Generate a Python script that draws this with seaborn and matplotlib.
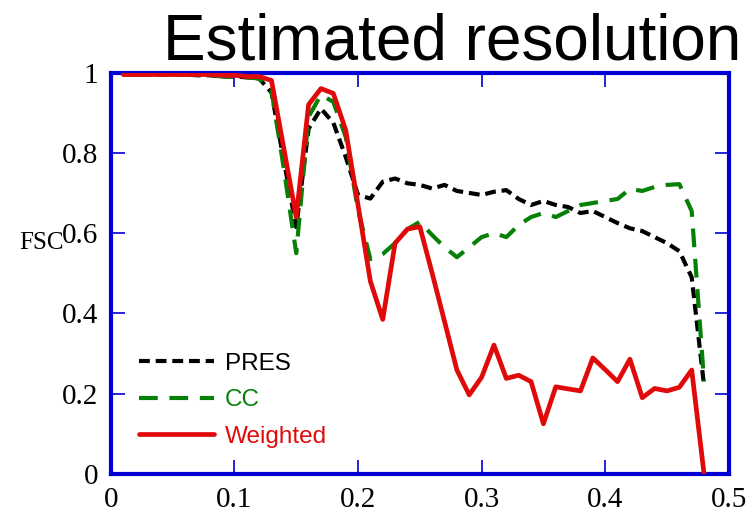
import numpy as np
import pandas as pd
import matplotlib
matplotlib.use("Agg")
import matplotlib.pyplot as plt
import seaborn as sns

# spatial frequency (1/A)
freq = [0.01, 0.02, 0.03, 0.04, 0.05, 0.06, 0.07, 0.08, 0.09, 0.10,
        0.11, 0.12, 0.13, 0.14, 0.15, 0.16, 0.17, 0.18, 0.19, 0.20,
        0.21, 0.22, 0.23, 0.24, 0.25, 0.26, 0.27, 0.28, 0.29, 0.30,
        0.31, 0.32, 0.33, 0.34, 0.35, 0.36, 0.37, 0.38, 0.39, 0.40,
        0.41, 0.42, 0.43, 0.44, 0.45, 0.46, 0.47, 0.48]

pres = [0.995, 0.995, 0.995, 0.995, 0.995, 0.995, 0.993, 0.993, 0.99, 0.99,
        0.988, 0.985, 0.95, 0.78, 0.615, 0.86, 0.91, 0.875, 0.79, 0.695,
        0.686, 0.728, 0.736, 0.724, 0.72, 0.711, 0.72, 0.705, 0.70, 0.695,
        0.703, 0.707, 0.685, 0.67, 0.68, 0.67, 0.665, 0.65, 0.655, 0.64,
        0.625, 0.612, 0.605, 0.59, 0.575, 0.555, 0.49, 0.22]

cc = [0.995, 0.995, 0.995, 0.995, 0.995, 0.995, 0.995, 0.993, 0.99, 0.99,
      0.988, 0.985, 0.955, 0.76, 0.55, 0.89, 0.944, 0.927, 0.84, 0.657,
      0.535, 0.548, 0.575, 0.61, 0.628, 0.595, 0.565, 0.54, 0.565, 0.59,
      0.60, 0.59, 0.62, 0.64, 0.65, 0.64, 0.655, 0.67, 0.675, 0.68,
      0.685, 0.71, 0.705, 0.715, 0.72, 0.722, 0.655, 0.23]

weighted = [0.995, 0.995, 0.995, 0.995, 0.995, 0.995, 0.995, 0.995, 0.993, 0.993,
            0.99, 0.99, 0.98, 0.81, 0.64, 0.92, 0.96, 0.948, 0.857, 0.67,
            0.48, 0.385, 0.575, 0.61, 0.616, 0.50, 0.38, 0.259, 0.197, 0.241,
            0.321, 0.238, 0.246, 0.23, 0.125, 0.217, 0.212, 0.207, 0.289, 0.26,
            0.23, 0.286, 0.19, 0.213, 0.207, 0.216, 0.259, 0.0]

xticks = [0, 0.1, 0.2, 0.3, 0.4, 0.5]
xlabels = ["0", "0.1", "0.2", "0.3", "0.4", "0.5"]
yticks = [0, 0.2, 0.4, 0.6, 0.8, 1.0]
ylabels = ["0", "0.2", "0.4", "0.6", "0.8", "1"]

df = pd.DataFrame({"freq": freq, "PRES": pres, "CC": cc, "Weighted": weighted})

sns.set_style("ticks")
plt.rcParams["font.family"] = ["Liberation Serif", "DejaVu Serif"]
plt.rcParams["text.color"] = "black"

blue = "#0000D2"
black = "#000000"
green = "#078007"
red = "#E00A0A"

fig = plt.figure(figsize=(7.49, 5.19), dpi=100)
ax = fig.add_axes([0.148, 0.0867, 0.825, 0.7736])

sns.lineplot(data=df, x="freq", y="PRES", ax=ax, color=black, lw=3,
             linestyle=(0, (2.6, 1.4)), label="PRES")
sns.lineplot(data=df, x="freq", y="CC", ax=ax, color=green, lw=3,
             linestyle=(0, (4.5, 2.8)), label="CC")
sns.lineplot(data=df, x="freq", y="Weighted", ax=ax, color=red, lw=3.4,
             label="Weighted")

ax.set_xlim(0, 0.5)
ax.set_ylim(0, 1)
ax.set_xticks(xticks)
ax.set_xticklabels(xlabels)
ax.set_yticks(yticks)
ax.set_yticklabels(ylabels)
ax.xaxis.set_ticks_position("both")
ax.yaxis.set_ticks_position("both")
ax.tick_params(which="major", direction="in", length=10, width=1.2, color=blue,
               labelcolor="black", labelsize=21, pad=9)
for s in ax.spines.values():
    s.set_color(blue)
    s.set_linewidth(3)
    s.set_visible(True)
    s.set_zorder(1)

ax.set_xlabel("")
ax.set_ylabel("FSC", rotation=0, fontsize=18, color="black", va="center", ha="center")
ax.yaxis.set_label_coords(-0.113, 0.575)

leg = ax.legend(frameon=False, loc="lower left", bbox_to_anchor=(0.045, 0.065),
                borderaxespad=0, borderpad=0, handlelength=3.1, handletextpad=0.45,
                labelspacing=0.6, prop={"family": "Liberation Sans", "size": 17.5})
for t, c in zip(leg.get_texts(), [black, green, red]):
    t.set_color(c)

fig.text(0.99, 0.885, "Estimated resolution", ha="right", va="baseline",
         fontsize=46, family="Liberation Sans", color="black")

fig.savefig("out.png", dpi=100)
